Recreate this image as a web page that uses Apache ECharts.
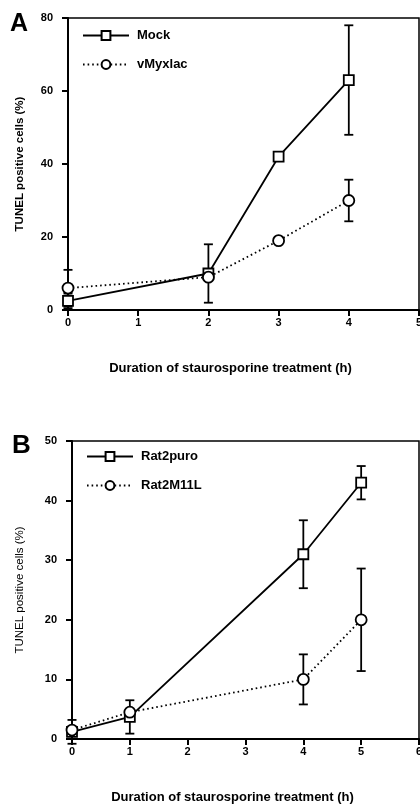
<!DOCTYPE html>
<html>
<head>
<meta charset="utf-8">
<script src="https://cdn.jsdelivr.net/npm/echarts@6/dist/echarts.min.js"></script>
<style>
  html, body { margin: 0; padding: 0; background: #fff; overflow: hidden; }
  #main { width: 420px; height: 805px; }
</style>
</head>
<body>
<div id="main"></div>
<script>
// panel A
const hoursA = [0, 2, 3, 4]
const mockMean = [2.5, 10, 42, 63]
const mockErr = [2, 8, 0, 15]
const myxMean = [6, 9, 19, 30]
const myxErr = [5, 0, 0, 5.7]

// panel B
const hoursB = [0, 1, 4, 5]
const puroMean = [1.2, 3.7, 31, 43]
const puroErr = [2, 2.8, 5.7, 2.8]
const m11Mean = [1.5, 4.5, 10, 20]
const m11Err = [0, 0, 4.2, 8.6]

const FONT = 'Liberation Sans, Arial, sans-serif'
const LW = 1.8

const pairs = (xs, ys) => xs.map((x, i) => [x, ys[i]])
const bars = (xs, ys, es) => xs.map((x, i) => [x, ys[i] - es[i], ys[i] + es[i]]).filter((d, i) => es[i] > 0)

const errorSeries = (data, idx) => ({
  type: 'custom',
  xAxisIndex: idx,
  yAxisIndex: idx,
  z: 1,
  silent: true,
  renderItem: (params, api) => {
    const lo = api.coord([api.value(0), api.value(1)])
    const hi = api.coord([api.value(0), api.value(2)])
    const w = 4.5
    const style = { stroke: '#000', lineWidth: LW }
    return {
      type: 'group',
      children: [
        { type: 'line', shape: { x1: lo[0], y1: lo[1], x2: hi[0], y2: hi[1] }, style },
        { type: 'line', shape: { x1: lo[0] - w, y1: lo[1], x2: lo[0] + w, y2: lo[1] }, style },
        { type: 'line', shape: { x1: hi[0] - w, y1: hi[1], x2: hi[0] + w, y2: hi[1] }, style }
      ]
    }
  },
  data: data
})

const lineSeries = (name, data, idx, symbol, dotted) => ({
  name: name,
  type: 'line',
  xAxisIndex: idx,
  yAxisIndex: idx,
  z: 3,
  data: data,
  symbol: symbol,
  symbolSize: symbol === 'rect' ? 10 : 11,
  showAllSymbol: true,
  lineStyle: dotted ? { color: '#000', width: LW, type: [1.6, 3] } : { color: '#000', width: LW },
  itemStyle: { color: '#fff', borderColor: '#000', borderWidth: LW },
  emphasis: { disabled: true }
})

const axisText = { color: '#000', fontFamily: FONT, fontWeight: 'bold', fontSize: 11 }

const xAxisOf = (idx, max) => ({
  type: 'value',
  gridIndex: idx,
  min: 0,
  max: max,
  interval: 1,
  name: 'Duration of staurosporine treatment (h)',
  nameLocation: 'middle',
  nameGap: 52,
  nameTextStyle: { color: '#000', fontFamily: FONT, fontWeight: 'bold', fontSize: 13, padding: [0, 26, 0, 0] },
  axisLine: { lineStyle: { color: '#000', width: 2 } },
  axisTick: { inside: false, length: 6, lineStyle: { color: '#000', width: 2 } },
  axisLabel: Object.assign({ margin: 7 }, axisText),
  splitLine: { show: false }
})

const yAxisOf = (idx, max, interval, bold, gap) => ({
  type: 'value',
  gridIndex: idx,
  min: 0,
  max: max,
  interval: interval,
  name: 'TUNEL positive cells (%)',
  nameLocation: 'middle',
  nameGap: gap,
  nameTextStyle: { color: '#000', fontFamily: FONT, fontWeight: bold ? 'bold' : 'normal', fontSize: 11.5 },
  axisLine: { lineStyle: { color: '#000', width: 2 } },
  axisTick: { inside: false, length: 6, lineStyle: { color: '#000', width: 2 } },
  axisLabel: Object.assign({ margin: 15 }, axisText),
  splitLine: { show: false }
})

const legendOf = (names, left, top) => ({
  data: names,
  left: left,
  top: top,
  orient: 'vertical',
  itemWidth: 46,
  itemHeight: 11,
  itemGap: 16,
  selectedMode: false,
  textStyle: { color: '#000', fontFamily: FONT, fontWeight: 'bold', fontSize: 13, padding: [0, 0, 0, 3] }
})

const chart = echarts.init(document.getElementById('main'))
chart.setOption({
  animation: false,
  backgroundColor: '#fff',
  title: [
    { text: 'A', left: 5, top: 7, textStyle: { fontFamily: FONT, fontWeight: 'bold', fontSize: 25, color: '#000' } },
    { text: 'B', left: 7, top: 428, textStyle: { fontFamily: FONT, fontWeight: 'bold', fontSize: 26, color: '#000' } }
  ],
  legend: [
    legendOf(['Mock', 'vMyxlac'], 77, 24),
    legendOf(['Rat2puro', 'Rat2M11L'], 81, 445)
  ],
  grid: [
    { left: 68, top: 18, width: 351, height: 292, outerBoundsMode: 'none', show: true, borderColor: '#000', borderWidth: 1.5 },
    { left: 72, top: 441, width: 347, height: 298, outerBoundsMode: 'none', show: true, borderColor: '#000', borderWidth: 1.5 }
  ],
  xAxis: [xAxisOf(0, 5), xAxisOf(1, 6)],
  yAxis: [yAxisOf(0, 80, 20, true, 42), yAxisOf(1, 50, 10, false, 46)],
  series: [
    errorSeries(bars(hoursA, mockMean, mockErr), 0),
    errorSeries(bars(hoursA, myxMean, myxErr), 0),
    lineSeries('Mock', pairs(hoursA, mockMean), 0, 'rect', false),
    lineSeries('vMyxlac', pairs(hoursA, myxMean), 0, 'circle', true),
    errorSeries(bars(hoursB, puroMean, puroErr), 1),
    errorSeries(bars(hoursB, m11Mean, m11Err), 1),
    lineSeries('Rat2puro', pairs(hoursB, puroMean), 1, 'rect', false),
    lineSeries('Rat2M11L', pairs(hoursB, m11Mean), 1, 'circle', true)
  ]
})
</script>
</body>
</html>
